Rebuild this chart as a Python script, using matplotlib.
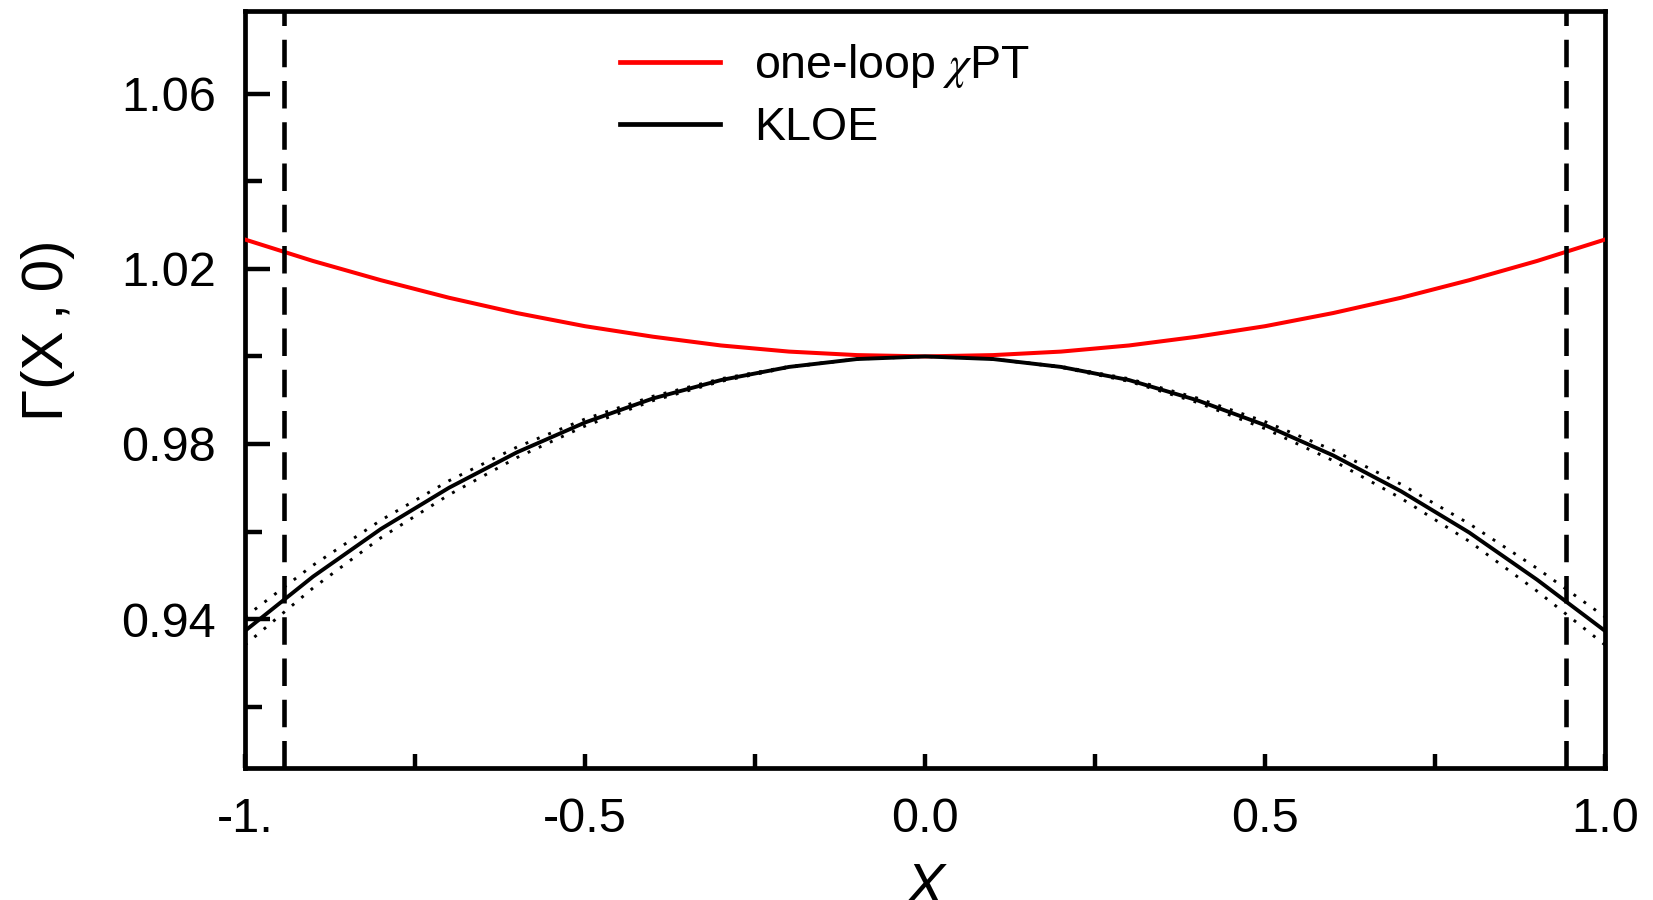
import matplotlib
matplotlib.use("Agg")
import matplotlib.pyplot as plt
from matplotlib.lines import Line2D
from matplotlib.ticker import FixedLocator

plt.rcParams['font.family'] = ['Liberation Sans', 'DejaVu Sans']
plt.rcParams['mathtext.fontset'] = 'stix'

# ---- data ----
x_vals = [-1.0, -0.9, -0.8, -0.7, -0.6, -0.5, -0.4, -0.3, -0.2, -0.1, 0.0,
          0.1, 0.2, 0.3, 0.4, 0.5, 0.6, 0.7, 0.8, 0.9, 1.0]
chpt_one_loop = [1.0267, 1.0218, 1.0174, 1.0134, 1.0099, 1.0069, 1.0045, 1.0025, 1.0011, 1.0003, 1.0000,
                 1.0003, 1.0011, 1.0025, 1.0045, 1.0069, 1.0099, 1.0134, 1.0174, 1.0218, 1.0267]
kloe_central = [0.9373, 0.9497, 0.9606, 0.9700, 0.9781, 0.9849, 0.9904, 0.9946, 0.9976, 0.9994, 1.0000,
                0.9994, 0.9976, 0.9946, 0.9900, 0.9843, 0.9774, 0.9692, 0.9598, 0.9490, 0.9373]
kloe_upper = [0.9405, 0.9523, 0.9626, 0.9716, 0.9793, 0.9857, 0.9909, 0.9949, 0.9977, 0.9994, 1.0000,
              0.9994, 0.9977, 0.9949, 0.9905, 0.9851, 0.9786, 0.9708, 0.9618, 0.9516, 0.9405]
kloe_lower = [0.9341, 0.9471, 0.9586, 0.9684, 0.9769, 0.9841, 0.9899, 0.9943, 0.9975, 0.9994, 1.0000,
              0.9994, 0.9975, 0.9943, 0.9895, 0.9835, 0.9762, 0.9676, 0.9578, 0.9464, 0.9341]
x_boundaries = [-0.942, 0.942]

x_major = [-1.0, -0.5, 0.0, 0.5, 1.0]
x_major_labels = ["-1.", "-0.5", "0.0", "0.5", "1.0"]
x_minor = [-0.75, -0.25, 0.25, 0.75]
y_major = [0.94, 0.98, 1.02, 1.06]
y_major_labels = ["0.94", "0.98", "1.02", "1.06"]
y_minor = [0.92, 0.96, 1.00, 1.04]
legend_labels = ["one-loop $\\chi$PT", "KLOE"]

# ---- figure ----
fig = plt.figure(figsize=(16.53, 9.0), dpi=100)
ax = fig.add_axes([0.1482, 0.1467, 0.9710 - 0.1482, 0.9883 - 0.1467])

ax.plot(x_vals, kloe_upper, color='black', lw=2.1, linestyle=(0, (1, 3.2)), zorder=2)
ax.plot(x_vals, kloe_lower, color='black', lw=2.1, linestyle=(0, (1, 3.2)), zorder=2)
ax.plot(x_vals, chpt_one_loop, color='#ff0000', lw=2.9, zorder=3)
ax.plot(x_vals, kloe_central, color='black', lw=2.8, zorder=3)
for xb in x_boundaries:
    ax.axvline(xb, color='black', lw=3.3, linestyle=(0, (6.0, 3.0)), zorder=4)

ax.set_xlim(-1.0, 1.0)
ax.set_ylim(0.906, 1.079)

ax.xaxis.set_major_locator(FixedLocator(x_major))
ax.set_xticklabels(x_major_labels)
ax.xaxis.set_minor_locator(FixedLocator(x_minor))
ax.yaxis.set_major_locator(FixedLocator(y_major))
ax.set_yticklabels(y_major_labels)
ax.yaxis.set_minor_locator(FixedLocator(y_minor))

ax.tick_params(axis='x', which='both', direction='in', length=10, width=3.2,
               labelsize=35, pad=21, top=False)
ax.tick_params(axis='y', which='major', direction='in', length=18, width=3.2,
               labelsize=35, pad=21, right=False)
ax.tick_params(axis='y', which='minor', direction='in', length=12, width=3.2, right=False)

for s in ax.spines.values():
    s.set_linewidth(3.4)

handles = [Line2D([], [], color='#ff0000', lw=3.4), Line2D([], [], color='black', lw=3.4)]
ax.legend(handles, legend_labels, loc='upper left', bbox_to_anchor=(0.276, 0.958),
          frameon=False, fontsize=33.5, handlelength=2.15, handletextpad=0.72,
          labelspacing=0.34, borderaxespad=0, borderpad=0)

fig.text(0.029, 1 - 330 / 900, "Γ(X\u2009,\u20090)", rotation=90, ha='center', va='center', fontsize=42)
fig.text(925 / 1653, 1 - 862 / 900, "X", style='italic', ha='center', va='top', fontsize=42)

fig.savefig("out.png", dpi=100)
